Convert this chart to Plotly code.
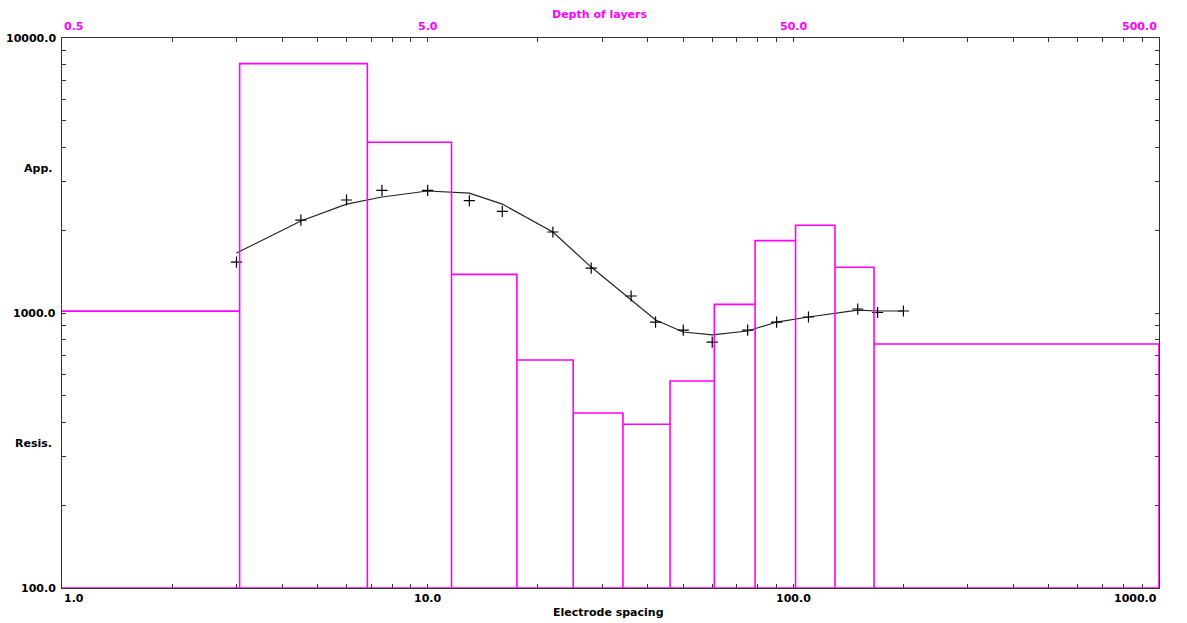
import math
import plotly.graph_objects as go

# ---- data ----
spacing = [3, 4.5, 6, 7.5, 10, 13, 16, 22, 28, 36, 42, 50, 60, 75, 90, 110, 150, 170, 200]
observed = [1532, 2178, 2576, 2790, 2790, 2564, 2340, 1970, 1457, 1153, 927, 867, 784, 867, 927, 967, 1034, 1004, 1017]
calculated = [1652, 2161, 2489, 2641, 2777, 2727, 2489, 1970, 1469, 1114, 943, 853, 832, 860, 927, 967, 1025, 1017, 1017]

layer_bottoms = [1.53, 3.42, 5.81, 8.77, 12.5, 17.1, 23.0, 30.4, 39.3, 50.7, 65.0, 83.1]
layer_resistivity = [1016, 8070, 4180, 1382, 675, 433, 394, 566, 1075, 1833, 2085, 1466, 771]
depth_min, depth_max = 0.5, 500.0

x_ticklabels = ["1.0", "10.0", "100.0", "1000.0"]
x_tickvalues = [1, 10, 100, 1000]
top_ticklabels = ["0.5", "5.0", "50.0", "500.0"]
top_tickvalues = [0.5, 5, 50, 500]
y_ticklabels = ["100.0", "1000.0", "10000.0"]
y_tickvalues = [100, 1000, 10000]

MAG = "#FF00FF"
AX = "#333333"
FONT = dict(family="DejaVu Sans", size=11, color="black", weight="bold")

# build rectangle outlines for the layered model
edges = [depth_min] + layer_bottoms + [depth_max]
mx, my = [], []
for i, r in enumerate(layer_resistivity):
    d0, d1 = edges[i], edges[i + 1]
    if i == 0:
        mx += [d0, d1, d1]
        my += [r, r, 100]
    else:
        mx += [d0, d0, d1, d1]
        my += [100, r, r, 100]
mx.append(depth_min)
my.append(100)

fig = go.Figure()
fig.add_trace(go.Scatter(x=mx, y=my, xaxis="x2", yaxis="y", mode="lines",
                         line=dict(color=MAG, width=1.6), hoverinfo="skip", showlegend=False))
fig.add_trace(go.Scatter(x=spacing, y=calculated, mode="lines",
                         line=dict(color="#222222", width=1.2), showlegend=False))
fig.add_trace(go.Scatter(x=spacing, y=observed, mode="markers",
                         marker=dict(symbol="cross-thin", size=8, line=dict(color="black", width=1.2)),
                         showlegend=False))

minor_x = [m * 10 ** e for e in range(0, 3) for m in range(1, 10)] + [1000]
minor_y = [m * 10 ** e for e in range(2, 4) for m in range(1, 10)] + [10000]

fig.update_layout(
    width=1187, height=623,
    margin=dict(l=62, r=28, t=38, b=35),
    paper_bgcolor="white", plot_bgcolor="white",
    font=FONT,
    xaxis=dict(type="log", range=[0, 3], showgrid=False, zeroline=False,
               showline=True, linecolor=AX, linewidth=1, mirror="ticks",
               ticks="inside", ticklen=4, tickcolor=AX, tickwidth=1,
               tickvals=minor_x, showticklabels=False, layer="below traces"),
    xaxis2=dict(type="log", range=[math.log10(depth_min), math.log10(depth_max)],
                overlaying="x", side="top", showgrid=False, zeroline=False,
                showline=False, ticks="", showticklabels=False),
    yaxis=dict(type="log", range=[2, 4], showgrid=False, zeroline=False,
               showline=True, linecolor=AX, linewidth=1, mirror="ticks",
               ticks="inside", ticklen=4, tickcolor=AX, tickwidth=1,
               tickvals=minor_y, showticklabels=False, layer="below traces"),
)

ann = []
anchors = ["left", "center", "center", "right"]
for v, t, a in zip(x_tickvalues, x_ticklabels, anchors):
    ann.append(dict(x=math.log10(v), xref="x", y=0, yref="paper", text=t, showarrow=False,
                    xanchor=a, yanchor="top", yshift=-2, font=FONT))
for v, t, a in zip(top_tickvalues, top_ticklabels, anchors):
    ann.append(dict(x=math.log10(v), xref="x2", y=1, yref="paper", text=t, showarrow=False,
                    xanchor=a, yanchor="bottom", yshift=3, font=dict(FONT, color=MAG)))
for v, t in zip(y_tickvalues, y_ticklabels):
    ann.append(dict(x=0, xref="paper", y=math.log10(v), yref="y", text=t, showarrow=False,
                    xanchor="right", yanchor="middle", xshift=-4, font=FONT))
ann.append(dict(x=0, xref="paper", y=0.762, yref="paper", text="App.", showarrow=False,
                xanchor="right", yanchor="middle", xshift=-8, font=FONT))
ann.append(dict(x=0, xref="paper", y=0.2636, yref="paper", text="Resis.", showarrow=False,
                xanchor="right", yanchor="middle", xshift=-8, font=FONT))
ann.append(dict(x=0.49, xref="paper", y=1, yref="paper", text="Depth of layers", showarrow=False,
                xanchor="center", yanchor="middle", yshift=24, font=dict(FONT, color=MAG)))
ann.append(dict(x=0.498, xref="paper", y=0, yref="paper", text="Electrode spacing", showarrow=False,
                xanchor="center", yanchor="middle", yshift=-24, font=FONT))
fig.update_layout(annotations=ann)

fig.write_html("out.html",
               config={"displayModeBar": False},
               post_script="document.body.style.margin='0';document.body.style.overflow='hidden';")
